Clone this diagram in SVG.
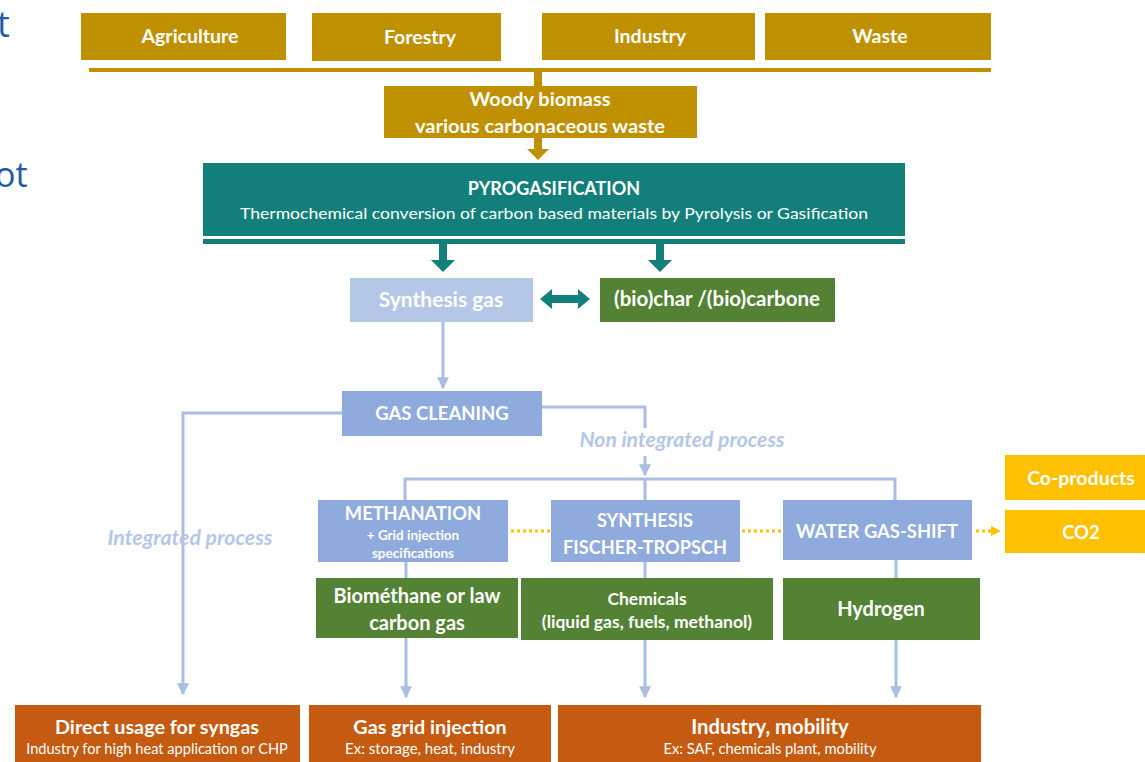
<svg xmlns="http://www.w3.org/2000/svg" width="1145" height="762" viewBox="0 0 1145 762">
<defs>
<style>
text{font-family:Lato,"Open Sans","Liberation Sans",sans-serif;text-anchor:middle;fill:#ffffff}
.b{font-weight:bold}
.gold{fill:#BF9000}
.teal{fill:#137F7B}
.lb{fill:#B4C7E7}
.mb{fill:#8FAADC}
.gr{fill:#548235}
.or{fill:#C55A11}
.ye{fill:#FFC000}
.conn{fill:none;stroke:#A9BEE3;stroke-width:3}
.dot{fill:none;stroke:#FFC000;stroke-width:3;stroke-dasharray:3 3}
.it{font-style:italic;font-weight:bold;fill:#B4C7E7}
.slide{fill:#1F5AA6;text-anchor:start;font-family:"Open Sans","Liberation Sans",sans-serif}
</style>
<marker id="ah" viewBox="0 0 10 10" refX="9" refY="5" markerWidth="4" markerHeight="4" orient="auto"><path d="M0,0 L10,5 L0,10 z" fill="#A9BEE3"/></marker>
<marker id="ay" viewBox="0 0 10 10" refX="9" refY="5" markerWidth="3.5" markerHeight="3.5" orient="auto"><path d="M0,0 L10,5 L0,10 z" fill="#FFC000"/></marker>
</defs>
<rect width="1145" height="762" fill="#ffffff"/>
<text class="slide" x="-3" y="37" font-size="36">t</text>
<text class="slide" x="-5" y="187" font-size="34">ot</text>

<g id="connectors">
<rect x="89" y="68" width="902" height="4" class="gold"/>
<rect x="534" y="72" width="8" height="14" class="gold"/>
<polygon points="534,138 542,138 542,149 549,149 538,160 527,149 534,149" class="gold"/>
<rect x="203" y="239" width="702" height="5" class="teal"/>
<polygon points="439,244 447,244 447,260 455,260 443,272 431,260 439,260" class="teal"/>
<polygon points="656,244 664,244 664,260 672,260 660,272 648,260 656,260" class="teal"/>
<polygon points="540,299 552,289 552,295 578,295 578,289 590,299 578,309 578,303 552,303 552,309" class="teal"/>
<path class="conn" d="M443,322 V388" marker-end="url(#ah)"/>
<path class="conn" d="M342,413 H183 V694" marker-end="url(#ah)"/>
<path class="conn" d="M542,407 H645 V428"/>
<path class="conn" d="M645,456 V475" marker-end="url(#ah)"/>
<path class="conn" d="M405,500 V479 H895 V500"/>
<path class="conn" d="M645,479 V500"/>
<path class="conn" d="M406,562 V578"/>
<path class="conn" d="M645,562 V578"/>
<path class="conn" d="M896,560 V578"/>
<path class="conn" d="M406,638 V697" marker-end="url(#ah)"/>
<path class="conn" d="M645,640 V697" marker-end="url(#ah)"/>
<path class="conn" d="M896,640 V697" marker-end="url(#ah)"/>
<path class="dot" d="M511,531 H550"/>
<path class="dot" d="M742,531 H782"/>
<path class="dot" d="M976,531 H1000" marker-end="url(#ay)"/>
</g>

<g id="agriculture"><rect x="81" y="13" width="205" height="47" class="gold"/><text x="190" y="43" font-size="19.5" class="b">Agriculture</text></g>
<g id="forestry"><rect x="312" y="13" width="189" height="48" class="gold"/><text x="420" y="44" font-size="19.5" class="b">Forestry</text></g>
<g id="industry"><rect x="542" y="13" width="213" height="47" class="gold"/><text x="650" y="43" font-size="19.5" class="b">Industry</text></g>
<g id="waste"><rect x="765" y="13" width="226" height="47" class="gold"/><text x="880" y="43" font-size="19.5" class="b">Waste</text></g>

<g id="woody"><rect x="384" y="86" width="313" height="52" class="gold"/><text x="540" y="106" font-size="19" class="b" textLength="141" lengthAdjust="spacingAndGlyphs">Woody biomass</text><text x="540" y="133" font-size="19" class="b" textLength="250" lengthAdjust="spacingAndGlyphs">various carbonaceous waste</text></g>

<g id="pyro"><rect x="203" y="163" width="702" height="73" class="teal"/><text x="554" y="195" font-size="18" class="b">PYROGASIFICATION</text><text x="554" y="219" font-size="16" textLength="628" lengthAdjust="spacingAndGlyphs">Thermochemical  conversion of carbon based materials by Pyrolysis or Gasification</text></g>

<g id="syngas"><rect x="350" y="278" width="183" height="44" class="lb"/><text x="441" y="307" font-size="21" class="b" fill="#F2F5FB">Synthesis gas</text></g>
<g id="biochar"><rect x="600" y="278" width="235" height="44" class="gr"/><text x="717" y="306" font-size="20.5" class="b">(bio)char /(bio)carbone</text></g>

<g id="gascleaning"><rect x="342" y="391" width="200" height="45" class="mb"/><text x="442" y="420" font-size="18.5" class="b">GAS CLEANING</text></g>
<g id="nonintegrated"><text x="682" y="447" font-size="20" class="it" textLength="205" lengthAdjust="spacingAndGlyphs">Non integrated process</text></g>
<g id="integrated"><text x="190" y="545" font-size="20" class="it" textLength="165" lengthAdjust="spacingAndGlyphs">Integrated process</text></g>

<g id="methanation"><rect x="318" y="500" width="190" height="62" class="mb"/><text x="413" y="520" font-size="18.3" class="b">METHANATION</text><text x="413" y="540" font-size="13.5" class="b">+ Grid injection</text><text x="413" y="558" font-size="13.5" class="b">specifications</text></g>
<g id="fischer"><rect x="551" y="500" width="189" height="62" class="mb"/><text x="645" y="527" font-size="18.2" class="b">SYNTHESIS</text><text x="645" y="554" font-size="18.2" class="b">FISCHER-TROPSCH</text></g>
<g id="wgs"><rect x="783" y="500" width="189" height="60" class="mb"/><text x="877" y="538" font-size="18.4" class="b">WATER GAS-SHIFT</text></g>

<g id="coproducts"><rect x="1005" y="455" width="140" height="45" class="ye"/><text x="1081" y="485" font-size="19.5" class="b">Co-products</text></g>
<g id="co2"><rect x="1005" y="510" width="140" height="43" class="ye"/><text x="1081" y="539" font-size="18.5" class="b">CO2</text></g>

<g id="biomethane"><rect x="316" y="578" width="202" height="60" class="gr"/><text x="417" y="603" font-size="20" class="b">Biométhane or law</text><text x="417" y="630" font-size="20" class="b">carbon gas</text></g>
<g id="chemicals"><rect x="521" y="578" width="252" height="62" class="gr"/><text x="647" y="605" font-size="17.5" class="b">Chemicals</text><text x="647" y="628" font-size="17.5" class="b">(liquid gas, fuels, methanol)</text></g>
<g id="hydrogen"><rect x="783" y="578" width="197" height="62" class="gr"/><text x="881" y="616" font-size="20" class="b">Hydrogen</text></g>

<g id="direct"><rect x="15" y="705" width="285" height="57" class="or"/><text x="157" y="734" font-size="19.8" class="b">Direct usage for syngas</text><text x="157" y="754" font-size="14.6">Industry for high heat application or CHP</text></g>
<g id="gasgrid"><rect x="309" y="705" width="242" height="57" class="or"/><text x="430" y="734" font-size="19.8" class="b">Gas grid injection</text><text x="430" y="754" font-size="15">Ex: storage, heat, industry</text></g>
<g id="mobility"><rect x="558" y="705" width="423" height="57" class="or"/><text x="770" y="734" font-size="20.3" class="b">Industry, mobility</text><text x="770" y="754" font-size="14.7">Ex: SAF, chemicals plant, mobility</text></g>
</svg>
